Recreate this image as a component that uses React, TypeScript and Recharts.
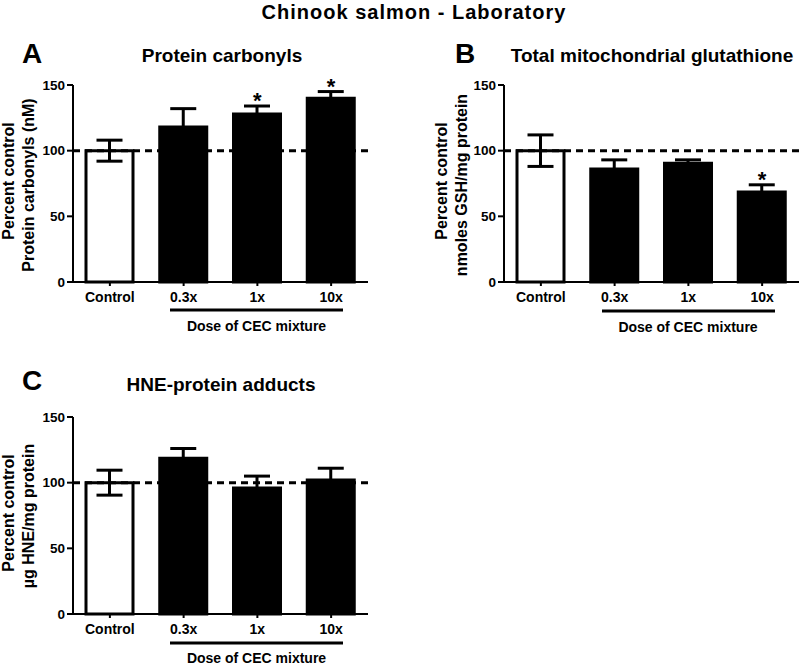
import { ComposedChart, Bar, Cell, ErrorBar, XAxis, YAxis, ReferenceLine, Scatter } from "recharts";

const categories = ["Control", "0.3x", "1x", "10x"];
const yTicks = [0, 50, 100, 150];

// panel A - protein carbonyls
const carbonylMean = [100, 118, 128, 140];
const carbonylErr = [8, 14, 6, 5];
const carbonylStar = [false, false, true, true];

// panel B - total mitochondrial glutathione
const gshMean = [100, 86, 90.5, 68.5];
const gshErr = [12, 7, 2.5, 5.5];
const gshStar = [false, false, false, true];

// panel C - HNE-protein adducts
const hneMean = [100, 118.5, 96, 102];
const hneErr = [9.5, 7.5, 9, 9];
const hneStar = [false, false, false, false];

const font = "'Liberation Sans', Arial, Helvetica, sans-serif";

type Row = { name: string; value: number; err: number; star: number | null };

const buildRows = (means: number[], errs: number[], stars: boolean[]): Row[] =>
  categories.map((name, i) => ({
    name,
    value: means[i],
    err: errs[i],
    star: stars[i] ? means[i] + errs[i] : null,
  }));

const Star = (props: any) => {
  const { cx, cy, payload } = props;
  if (!payload || payload.star == null || cy == null || isNaN(cy)) return <g />;
  return (
    <text x={cx} y={cy + 2} textAnchor="middle" fontSize={22} fontWeight="bold" fontFamily={font} fill="#000">
      *
    </text>
  );
};

type PanelProps = {
  rows: Row[];
  width: number;
  height: number;
  margin: { top: number; right: number; bottom: number; left: number };
};

const Panel = ({ rows, width, height, margin }: PanelProps) => (
  <ComposedChart width={width} height={height} data={rows} margin={margin} barSize={47}>
    <XAxis
      dataKey="name"
      height={30}
      interval={0}
      tickSize={4}
      tickMargin={6}
      axisLine={{ stroke: "#000", strokeWidth: 2 }}
      tickLine={{ stroke: "#000", strokeWidth: 2 }}
      tick={{ fill: "#000", fontSize: 14, fontWeight: "bold", fontFamily: font }}
    />
    <YAxis
      width={60}
      domain={[0, 150]}
      ticks={yTicks}
      tickSize={6}
      axisLine={{ stroke: "#000", strokeWidth: 2 }}
      tickLine={{ stroke: "#000", strokeWidth: 2 }}
      tick={{ fill: "#000", fontSize: 13.5, fontWeight: "bold", fontFamily: font }}
    />
    <ReferenceLine y={100} stroke="#000" strokeWidth={3} strokeDasharray="7 5" />
    <Bar dataKey="value" stroke="#000" strokeWidth={3} isAnimationActive={false}>
      {rows.map((r, i) => (
        <Cell key={r.name} fill={i === 0 ? "#fff" : "#000"} />
      ))}
      <ErrorBar dataKey="err" direction="y" width={13} stroke="#000" strokeWidth={3} isAnimationActive={false} />
    </Bar>
    <Scatter dataKey="star" shape={Star} isAnimationActive={false} />
  </ComposedChart>
);

const YLabel = ({ x1, x2, y1, y2, line2 }: { x1: number; x2: number; y1: number; y2: number; line2: string }) => (
  <g fontSize={16} fontWeight="bold" fontFamily={font} fill="#000" textAnchor="middle">
    <text transform={`translate(${x1},${y1}) rotate(-90)`}>Percent control</text>
    <text transform={`translate(${x2},${y2}) rotate(-90)`}>{line2}</text>
  </g>
);

const Dose = ({ x1, x2, y, cx, ty }: { x1: number; x2: number; y: number; cx: number; ty: number }) => (
  <g>
    <line x1={x1} x2={x2} y1={y} y2={y} stroke="#000" strokeWidth={3} />
    <text x={cx} y={ty} textAnchor="middle" fontSize={14} fontWeight="bold" fontFamily={font} fill="#000">
      Dose of CEC mixture
    </text>
  </g>
);

export default function App() {
  const carbonylRows = buildRows(carbonylMean, carbonylErr, carbonylStar);
  const gshRows = buildRows(gshMean, gshErr, gshStar);
  const hneRows = buildRows(hneMean, hneErr, hneStar);

  return (
    <div style={{ position: "absolute", left: 0, top: 0, width: 800, height: 665, background: "#fff", fontFamily: font }}>
      <div style={{ position: "absolute", left: 0, top: 0 }}>
        <Panel rows={carbonylRows} width={400} height={340} margin={{ top: 85, right: 32, bottom: 28, left: 13 }} />
      </div>
      <div style={{ position: "absolute", left: 400, top: 0 }}>
        <Panel rows={gshRows} width={400} height={340} margin={{ top: 85, right: 1, bottom: 28, left: 44 }} />
      </div>
      <div style={{ position: "absolute", left: 0, top: 340 }}>
        <Panel rows={hneRows} width={400} height={325} margin={{ top: 77, right: 32, bottom: 21, left: 13 }} />
      </div>
      <svg width={800} height={665} style={{ position: "absolute", left: 0, top: 0, pointerEvents: "none" }}>
        <text x={414} y={19} textAnchor="middle" fontSize={20} letterSpacing={1} fontWeight="bold" fontFamily={font} fill="#000">
          Chinook salmon - Laboratory
        </text>

        <text x={22} y={63} fontSize={28} fontWeight="bold" fontFamily={font} fill="#000">A</text>
        <text x={222} y={62} textAnchor="middle" fontSize={19} fontWeight="bold" fontFamily={font} fill="#000">
          Protein carbonyls
        </text>
        <YLabel x1={14} y1={181} x2={33.5} y2={185} line2="Protein carbonyls (nM)" />
        <Dose x1={170} x2={343} y={310} cx={256.5} ty={331} />

        <text x={455} y={63} fontSize={28} fontWeight="bold" fontFamily={font} fill="#000">B</text>
        <text x={652} y={62} textAnchor="middle" fontSize={19} fontWeight="bold" fontFamily={font} fill="#000">
          Total mitochondrial glutathione
        </text>
        <YLabel x1={447} y1={181} x2={466.5} y2={185} line2="nmoles GSH/mg protein" />
        <Dose x1={602} x2={775} y={311} cx={688} ty={332} />

        <text x={22} y={390} fontSize={28} fontWeight="bold" fontFamily={font} fill="#000">C</text>
        <text x={221} y={391} textAnchor="middle" fontSize={19} fontWeight="bold" fontFamily={font} fill="#000">
          HNE-protein adducts
        </text>
        <YLabel x1={14} y1={513} x2={34} y2={516} line2="µg HNE/mg protein" />
        <Dose x1={170} x2={343} y={643} cx={256.5} ty={663} />
      </svg>
    </div>
  );
}
